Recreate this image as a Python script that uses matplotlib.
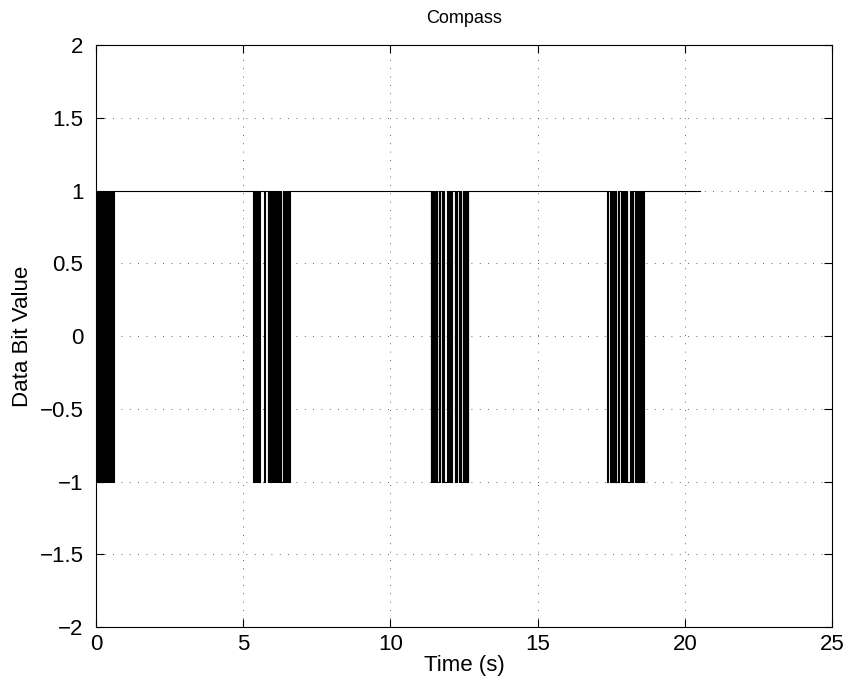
import numpy as np
import matplotlib
matplotlib.use("Agg")
import matplotlib.pyplot as plt

plt.rcParams['font.family'] = ['Liberation Sans', 'DejaVu Sans']

# Decoded compass data stream: idle level is 1, each burst is a bit string
bit_period = 0.022          # seconds per bit
idle_level = 1
stream_end = 20.52          # last sample time (s)

burst_starts = [0.0, 5.33, 11.37, 17.37]
burst_bits = [
    "0101010101010101" "0" "101010101" "1" "01",
    "01010101010" "111111" "0" "11111" "010101" "00" "101010" "1" "010101" "000" "1010101010",
    "0101010101" "000" "10" "111" "01" "00000" "101010101" "111" "0101" "11" "0101" "000" "10101010",
    "01" "11" "0101010101" "00" "10" "111" "01010101010" "000" "10101" "11" "010101" "00" "1010101",
]

# Build the step signal
t = [0.0]
v = [idle_level]
for start, bits in zip(burst_starts, burst_bits):
    for i, b in enumerate(bits):
        t.append(start + i * bit_period)
        v.append(1 if b == "1" else -1)
    t.append(start + len(bits) * bit_period)
    v.append(idle_level)
t.append(stream_end)
v.append(idle_level)
t = np.array(t)
v = np.array(v)

fig = plt.figure(figsize=(8.48, 6.83), dpi=100)
ax = fig.add_axes([0.1132, 0.082, 0.868, 0.852])
ax.plot(t, v, drawstyle='steps-post', color='black', linewidth=0.8)

ax.set_xlim(0, 25)
ax.set_ylim(-2, 2)
ax.set_xticks(np.arange(0, 26, 5))
ax.set_yticks(np.arange(-2, 2.01, 0.5))
ax.set_yticklabels(['\u22122', '\u22121.5', '\u22121', '\u22120.5', '0', '0.5', '1', '1.5', '2'])

ax.grid(True, linestyle=(0, (1, 9)), color='black', linewidth=0.6, alpha=0.8)
ax.tick_params(direction='in', length=6, width=0.8, labelsize=16,
               top=True, right=True)
ax.tick_params(axis='y', pad=9)
ax.tick_params(axis='x', pad=5)
for s in ax.spines.values():
    s.set_linewidth(0.8)

ax.set_title('Compass', fontsize=13, pad=16)
ax.set_xlabel('Time (s)', fontsize=16, labelpad=0)
ax.set_ylabel('Data Bit Value', fontsize=16, labelpad=5)

fig.savefig('out.png', dpi=100)
